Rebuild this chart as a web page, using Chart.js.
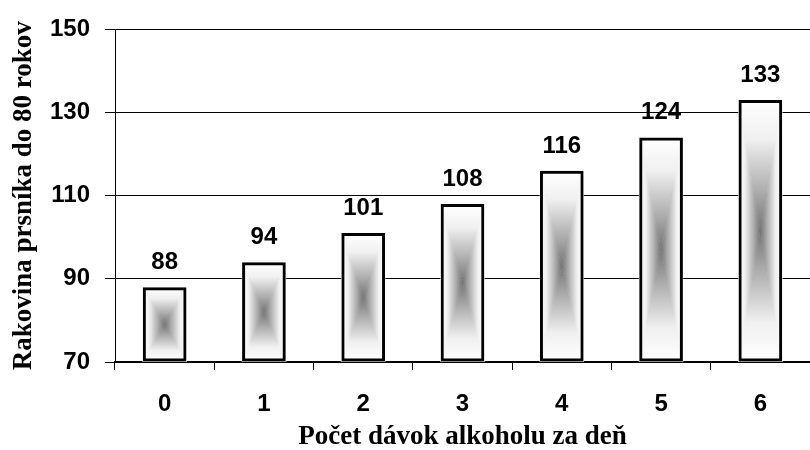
<!DOCTYPE html>
<html>
<head>
<meta charset="utf-8">
<script src="https://cdn.jsdelivr.net/npm/chart.js@4"></script>
<style>
  html,body{margin:0;padding:0;background:#fff}
  #wrap{width:810px;height:450px}
</style>
</head>
<body>
<div id="wrap"><canvas id="chart"></canvas></div>
<script>
// data
const categories = ['0','1','2','3','4','5','6'];
const values = [88, 94, 101, 108, 116, 124, 133];
const yTicks = [70, 90, 110, 130, 150];
const xTitle = 'Počet dávok alkoholu za deň';
const yTitle = 'Rakovina prsníka do 80 rokov';

const numFont = {family:'"Liberation Sans", Arial, sans-serif', size:24, weight:'bold'};
const titleFont = {family:'"Liberation Serif", "Times New Roman", serif', size:27, weight:'bold'};

// rectangular "from center" gradient, drawn under each bar (border drawn by chart.js on top)
const centerFill = {
  id:'centerFill',
  beforeDatasetsDraw(chart){
    const ctx = chart.ctx;
    chart.getDatasetMeta(0).data.forEach(bar=>{
      const {x,y,base,width} = bar.getProps(['x','y','base','width'], true);
      const l=x-width/2, r=x+width/2, t=Math.min(y,base), b=Math.max(y,base);
      const cx=x, cy=(t+b)/2;
      const stops = g=>{g.addColorStop(0,'#ffffff');g.addColorStop(0.3,'#f0f0f0');g.addColorStop(0.7,'#acacac');g.addColorStop(1,'#747474');return g;};
      const tris = [
        [[l,t],[r,t],[cx,cy], ctx.createLinearGradient(cx,t,cx,cy)],
        [[l,b],[r,b],[cx,cy], ctx.createLinearGradient(cx,b,cx,cy)],
        [[l,t],[l,b],[cx,cy], ctx.createLinearGradient(l,cy,cx,cy)],
        [[r,t],[r,b],[cx,cy], ctx.createLinearGradient(r,cy,cx,cy)]
      ];
      ctx.save();
      tris.forEach(([p1,p2,p3,g])=>{
        ctx.beginPath();ctx.moveTo(p1[0],p1[1]);ctx.lineTo(p2[0],p2[1]);ctx.lineTo(p3[0],p3[1]);ctx.closePath();
        ctx.fillStyle=stops(g);ctx.fill();
        ctx.strokeStyle=ctx.fillStyle;ctx.lineWidth=0.5;ctx.stroke();
      });
      ctx.restore();
    });
  }
};

const valueLabels = {
  id:'valueLabels',
  afterDatasetsDraw(chart){
    const ctx = chart.ctx;
    ctx.save();
    ctx.font = `${numFont.weight} ${numFont.size}px ${numFont.family}`;
    ctx.fillStyle='#000';ctx.textAlign='center';ctx.textBaseline='alphabetic';
    chart.getDatasetMeta(0).data.forEach((bar,i)=>{
      ctx.fillText(String(values[i]), bar.x, bar.y-18);
    });
    ctx.restore();
  }
};

new Chart(document.getElementById('chart'),{
  type:'bar',
  data:{labels:categories,datasets:[{data:values,base:yTicks[0],
    backgroundColor:'rgba(0,0,0,0)',borderColor:'#000',borderWidth:3,borderSkipped:false,
    barPercentage:0.44,categoryPercentage:1}]},
  options:{
    responsive:true,maintainAspectRatio:false,animation:false,devicePixelRatio:1,
    layout:{padding:{top:20,right:-11,bottom:0,left:0}},
    plugins:{legend:{display:false},tooltip:{enabled:false}},
    scales:{
      x:{
        grid:{display:true,drawOnChartArea:false,offset:true,color:'#000',lineWidth:1,tickLength:8},
        border:{display:true,color:'#000',width:2},
        ticks:{color:'#000',font:numFont,padding:20,maxRotation:0},
        title:{display:true,text:xTitle,color:'#000',font:titleFont,padding:{top:0,bottom:-3}},
        afterFit(s){s.height=88;}
      },
      y:{
        min:70,max:150,
        afterBuildTicks(s){s.ticks=yTicks.map(v=>({value:v}));},
        grid:{color:'#000',lineWidth:1,tickLength:10},
        border:{display:true,color:'#000',width:1},
        ticks:{color:'#000',font:numFont,padding:15},
        title:{display:true,text:yTitle,color:'#000',font:titleFont,padding:{top:8,bottom:0}},
        afterFit(s){s.width=115;}
      }
    }
  },
  plugins:[centerFill,valueLabels]
});
</script>
</body>
</html>
